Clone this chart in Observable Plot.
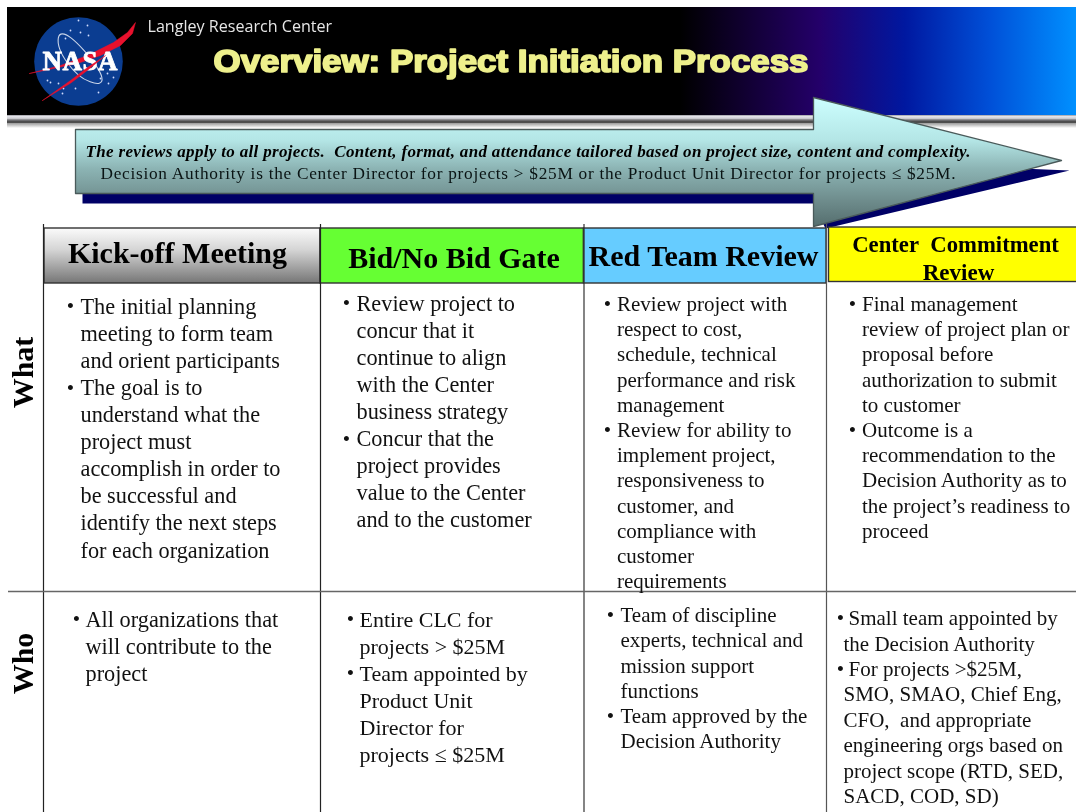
<!DOCTYPE html>
<html>
<head>
<meta charset="utf-8">
<script src="https://cdn.jsdelivr.net/npm/d3@7"></script>
<script src="https://cdn.jsdelivr.net/npm/@observablehq/plot@0.6"></script>
<style>
html,body{margin:0;padding:0;background:#fff;overflow:hidden}
svg{display:block;filter:blur(0.3px)}
svg text.title{filter:drop-shadow(2px 2px 1px #555)}
svg text.hshadow{filter:drop-shadow(2px 2px 1.5px #888)}
</style>
</head>
<body>
<div id="chart"></div>
<script>
// ---------- content ----------
const centerName = "Langley Research Center";
const slideTitle = "Overview: Project Initiation Process";
const bannerLines = [
  "The reviews apply to all projects.\u00a0 Content, format, and attendance tailored based on project size, content and complexity.",
  "Decision Authority is the Center Director for projects > $25M or the Product Unit Director for projects ≤ $25M."
];
const rowLabels = ["What", "Who"];
const stageNames = ["Kick-off Meeting", "Bid/No Bid Gate", "Red Team Review"];
const stageFourName = ["Center\u00a0 Commitment", "Review"];

const whatKickoff = ["• The initial planning","meeting to form team","and orient participants","• The goal is to","understand what the","project must","accomplish in order to","be successful and","identify the next steps","for each organization"];
const whatBid = ["• Review project to","concur that it","continue to align","with the Center","business strategy","• Concur that the","project provides","value to the Center","and to the customer"];
const whatRed = ["• Review project with","respect to cost,","schedule, technical","performance and risk","management","• Review for ability to","implement project,","responsiveness to","customer, and","compliance with","customer","requirements"];
const whatCenter = ["• Final management","review of project plan or","proposal before","authorization to submit","to customer","• Outcome is a","recommendation to the","Decision Authority as to","the project’s readiness to","proceed"];
const whoKickoff = ["• All organizations that","will contribute to the","project"];
const whoBid = ["• Entire CLC for","projects > $25M","• Team appointed by","Product Unit","Director for","projects ≤ $25M"];
const whoRed = ["• Team of discipline","experts, technical and","mission support","functions","• Team approved by the","Decision Authority"];
const whoCenter = ["• Small team appointed by","the Decision Authority","• For projects >$25M,","SMO, SMAO, Chief Eng,","CFO,\u00a0 and appropriate","engineering orgs based on","project scope (RTD, SED,","SACD, COD, SD)"];

// ---------- layout (slide coordinates) ----------
const columnRules = [
  {x: 43, stroke: "#222"}, {x: 320, stroke: "#222"}, {x: 583.5, stroke: "#333"}, {x: 826, stroke: "#555"}
];
const cells = [
  {lines: whatKickoff, x: 80,  top: 306, step: 27.1, size: 22.3, bulletX: 70},
  {lines: whatBid,     x: 356, top: 303, step: 27.1, size: 22.3, bulletX: 346},
  {lines: whatRed,     x: 616.5, top: 303.7, step: 25.2, size: 21, bulletX: 607},
  {lines: whatCenter,  x: 861.5, top: 303.7, step: 25.2, size: 21, bulletX: 852},
  {lines: whoKickoff,  x: 85,  top: 619, step: 27.1, size: 22.3, bulletX: 76},
  {lines: whoBid,      x: 359, top: 619, step: 27.1, size: 22, bulletX: 350},
  {lines: whoRed,      x: 620, top: 615, step: 25.2, size: 21, bulletX: 610},
  {lines: whoCenter,   x: 843, top: 618, step: 25.4, size: 21, bulletX: 840, bulletIndent: 5}
];
const bodyRows = cells.flatMap(c => c.lines.map((s, i) => {
  const bullet = s.startsWith("• ");
  return {
    text: s.replace(/^• /, ""),
    bullet,
    x: c.x + (bullet ? c.bulletIndent || 0 : 0),
    bx: c.bulletX,
    y: c.top + i * c.step,
    size: c.size
  };
}));
const headerBoxes = [
  {x1: 44,  x2: 320,  y1: 228, y2: 283, fill: "url(#kick)"},
  {x1: 320, x2: 583.5,y1: 228, y2: 283, fill: "#66ff33"},
  {x1: 583.5,x2: 826, y1: 228, y2: 283, fill: "#66ccff"},
  {x1: 828.5,x2: 1078,y1: 227, y2: 281.5, fill: "#ffff00"}
];
const arrowOutline = [[75,129],[813,129],[813,97],[1061,160],[813,226],[813,193],[75,193]];
const arrowShadow = [[82,160],[830,160],[1069,170],[825,228],[813,203],[82,203]];
const globe = [{x: 78, y: 61}];
const stars = [[87,25],[78,20],[70,30],[80,32],[88,35],[65,38],[50,82],[47,80],[58,83],[63,88],[62,93],[75,88],[98,92],[100,78],[108,83],[113,77],[107,73]];
const swooshA = [[29,73],[60,65],[87,55],[113,42],[127,32],[135,22],[132,33],[120,45],[100,55],[77,63],[53,68]];
const swooshB = [[42,100],[70,80],[87,67],[105,55],[88,69],[71,82]];
const orbit = [[57,36],[61,32],[70,36],[84,50],[96,65],[103,78],[100,84],[90,82],[78,76],[66,62],[58,48]];

const xy = {x: d => d[0], y: d => d[1]};
const gradient = (id, stops, horizontal) =>
  `<linearGradient id="${id}" x1="0" y1="0" x2="${horizontal ? 1 : 0}" y2="${horizontal ? 0 : 1}">` +
  stops.map(([o, c]) => `<stop offset="${o}" stop-color="${c}"/>`).join("") + `</linearGradient>`;
const defs = () => {
  const el = d3.create("svg:defs");
  el.html(
    gradient("sky", [[0,"#000"],[0.63,"#000"],[0.76,"#24006a"],[0.84,"#0018a0"],[0.92,"#0050d8"],[1,"#0090ff"]], true) +
    gradient("bar", [[0,"#9a9aa0"],[0.2,"#e8e8ee"],[0.45,"#c8c8cc"],[0.6,"#808084"],[0.85,"#444"],[1,"#555"]]) +
    gradient("fade", [[0,"#999"],[1,"#fff"]]) +
    gradient("arrow", [[0,"#ccffff"],[0.33,"#b4e6e6"],[0.55,"#8cb4b4"],[0.8,"#6e8c8c"],[1,"#556e6e"]]) +
    gradient("kick", [[0,"#fbfbfb"],[0.4,"#d4d4d4"],[1,"#767676"]])
  );
  return el.node();
};

const serif = "Liberation Serif";
const plot = Plot.plot({
  width: 1076, height: 812,
  margin: 0, marginTop: 0, marginRight: 0, marginBottom: 0, marginLeft: 0,
  x: {domain: [0, 1076], range: [0, 1076], axis: null},
  y: {domain: [0, 812], range: [0, 812], axis: null},
  style: {background: "#fff", overflow: "hidden"},
  marks: [
    defs,
    // masthead
    Plot.rect([{}], {x1: 7, x2: 1076, y1: 7, y2: 115, fill: "url(#sky)"}),
    Plot.rect([{}], {x1: 7, x2: 1076, y1: 115, y2: 123, fill: "url(#bar)"}),
    Plot.rect([{}], {x1: 7, x2: 1076, y1: 123, y2: 128, fill: "url(#fade)"}),
    // NASA logo
    Plot.dot(globe, {x: "x", y: "y", r: 44.3, fill: "#0b3d91"}),
    Plot.dot(stars, {...xy, r: 0.9, fill: "#cfdcff"}),
    Plot.line(orbit, {...xy, stroke: "#c8d4e8", strokeWidth: 1.1, curve: "basis-closed"}),
    Plot.line(swooshA, {...xy, fill: "#e8112d", stroke: "#e8112d", strokeWidth: 0.5, curve: "linear-closed"}),
    Plot.text(["NASA"], {x: 79.5, y: 60.5, fill: "#fff", stroke: "#fff", strokeWidth: 0.8, fontFamily: serif, fontWeight: "bold", fontSize: 27, className: "nasa"}),
    Plot.line(swooshB, {...xy, fill: "#e8112d", stroke: "#e8112d", strokeWidth: 0.5, curve: "linear-closed"}),
    Plot.text([centerName], {x: 147, y: 26, textAnchor: "start", fill: "#e6e6e6", fontFamily: "Open Sans", fontSize: 16.1}),
    Plot.text([slideTitle], {x: 213, y: 62, textAnchor: "start", fill: "#eef08c", stroke: "#eef08c", strokeWidth: 1.7, fontFamily: "Liberation Sans", fontWeight: "bold", fontSize: 31, className: "title"}),
    // arrow
    Plot.line(arrowShadow, {...xy, fill: "#000066", curve: "linear-closed"}),
    Plot.line(arrowOutline, {...xy, fill: "url(#arrow)", stroke: "#4a5a5a", strokeWidth: 1.3, curve: "linear-closed"}),
    Plot.text([bannerLines[0]], {x: 85, y: 151, textAnchor: "start", fill: "#000", fontFamily: serif, fontWeight: "bold", fontStyle: "italic", fontSize: 17, className: "banner0"}),
    Plot.text([bannerLines[1]], {x: 100, y: 173, textAnchor: "start", fill: "#0a1414", fontFamily: serif, fontSize: 17.3, className: "banner1"}),
    // table
    Plot.rect(headerBoxes, {x1: "x1", x2: "x2", y1: "y1", y2: "y2", fill: "fill", stroke: "#333", strokeWidth: 1.4}),
    Plot.ruleX(columnRules, {x: "x", y1: 224, y2: 812, stroke: "stroke", strokeWidth: 1.2}),
    Plot.ruleY([591], {x1: 8, x2: 1076, stroke: "#666", strokeWidth: 1.5}),
    Plot.text([stageNames[0]], {x: 177, y: 253, fill: "#000", fontFamily: serif, fontWeight: "bold", fontSize: 30, className: "hshadow"}),
    Plot.text([stageNames[1]], {x: 453.5, y: 258, fill: "#000", fontFamily: serif, fontWeight: "bold", fontSize: 30}),
    Plot.text([stageNames[2]], {x: 703, y: 256, fill: "#000", fontFamily: serif, fontWeight: "bold", fontSize: 30}),
    Plot.text([stageFourName[0]], {x: 955, y: 244, fill: "#000", fontFamily: serif, fontWeight: "bold", fontSize: 22.7}),
    Plot.text([stageFourName[1]], {x: 958, y: 272, fill: "#000", fontFamily: serif, fontWeight: "bold", fontSize: 23}),
    Plot.text([rowLabels[0]], {x: 23, y: 372, rotate: -90, fill: "#000", fontFamily: serif, fontWeight: "bold", fontSize: 30}),
    Plot.text([rowLabels[1]], {x: 23, y: 663, rotate: -90, fill: "#000", fontFamily: serif, fontWeight: "bold", fontSize: 30}),
    // body text
    Plot.text(bodyRows, {x: "x", y: "y", text: "text", textAnchor: "start", fill: "#111", fontFamily: serif, fontSize: d => d.size}),
    Plot.text(bodyRows.filter(d => d.bullet), {x: "bx", y: "y", text: () => "•", textAnchor: "middle", fill: "#111", fontFamily: serif, fontSize: 21})
  ]
});
document.getElementById("chart").appendChild(plot);

// stretch the few long lines to the measured extents of the slide
const fits = [[".title", 595, "spacingAndGlyphs"], [".banner0", 885, "spacing"], [".banner1", 855, "spacing"], [".nasa", 75, "spacing"]];
for (const [sel, len, mode] of fits) {
  plot.querySelectorAll(`${sel} text, text${sel}`).forEach(t => {
    t.setAttribute("textLength", len);
    t.setAttribute("lengthAdjust", mode);
  });
}
</script>
</body>
</html>
